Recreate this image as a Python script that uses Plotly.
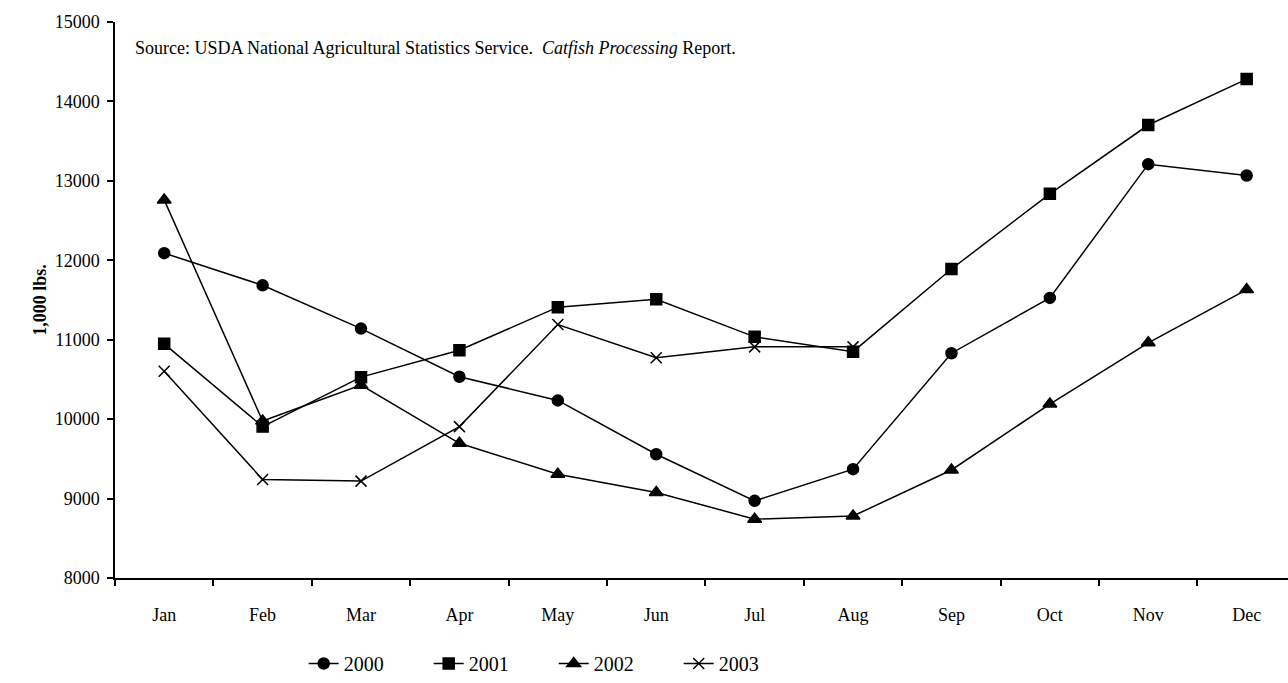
import plotly.graph_objects as go

months = ["Jan", "Feb", "Mar", "Apr", "May", "Jun", "Jul", "Aug", "Sep", "Oct", "Nov", "Dec"]
y2000 = [12090, 11685, 11140, 10534, 10236, 9558, 8971, 9370, 10830, 11526, 13210, 13067]
y2001 = [10948, 9906, 10529, 10868, 11410, 11510, 11036, 10850, 11890, 12837, 13703, 14281]
y2002 = [12760, 9976, 10428, 9696, 9306, 9077, 8741, 8780, 9360, 10190, 10961, 11631]
y2003 = [10604, 9240, 9220, 9906, 11191, 10772, 10910, 10910]
months2003 = months[:len(y2003)]

FONT = "Liberation Serif"

fig = go.Figure()
series = [
    ("2000", months, y2000, "circle", 11),
    ("2001", months, y2001, "square", 11),
    ("2002", months, y2002, "triangle-up", 12),
    ("2003", months2003, y2003, "x-thin", 11),
]
for name, xs, ys, sym, sz in series:
    fig.add_trace(go.Scatter(
        x=xs, y=ys, name=name, mode="lines+markers",
        line=dict(color="black", width=1.5),
        marker=dict(symbol=sym, size=sz, color="black",
                    line=dict(color="black", width=1.5)),
    ))

fig.update_layout(
    width=1288, height=683,
    margin=dict(l=115, r=0, t=22, b=104),
    paper_bgcolor="white", plot_bgcolor="white",
    font=dict(family=FONT, color="black", size=18),
    showlegend=True,
    legend=dict(orientation="h", x=0.374, xanchor="center", y=-0.154, yanchor="middle",
                font=dict(size=20, family=FONT), itemwidth=30, tracegroupgap=0,
                entrywidth=80),
    xaxis=dict(type="category", categoryorder="array", categoryarray=months,
               range=[-0.5, 11.42], showline=True, linecolor="black", linewidth=1.5,
               ticks="outside", tickson="boundaries", ticklen=6, tickwidth=1.5, tickcolor="black",
               showgrid=False, zeroline=False, tickfont=dict(size=18, family=FONT),
               ticklabelstandoff=20),
    yaxis=dict(range=[8000, 15000], dtick=1000, showline=True, linecolor="black", linewidth=1.5,
               ticks="outside", ticklen=6, tickwidth=1.5, tickcolor="black",
               showgrid=False, zeroline=False, tickfont=dict(size=18, family=FONT),
               tickformat="d", ticklabelstandoff=4,
               title=dict(text="<b>1,000 lbs.</b>", font=dict(size=18, family=FONT), standoff=3)),
    annotations=[dict(
        text="Source: USDA National Agricultural Statistics Service.  <i>Catfish Processing</i> Report.",
        xref="paper", yref="paper", x=(133 - 115) / 1173, y=(579 - 48) / 557,
        xanchor="left", yanchor="middle", showarrow=False,
        font=dict(size=18, family=FONT, color="black"))],
)

fig.write_html("out.html")
